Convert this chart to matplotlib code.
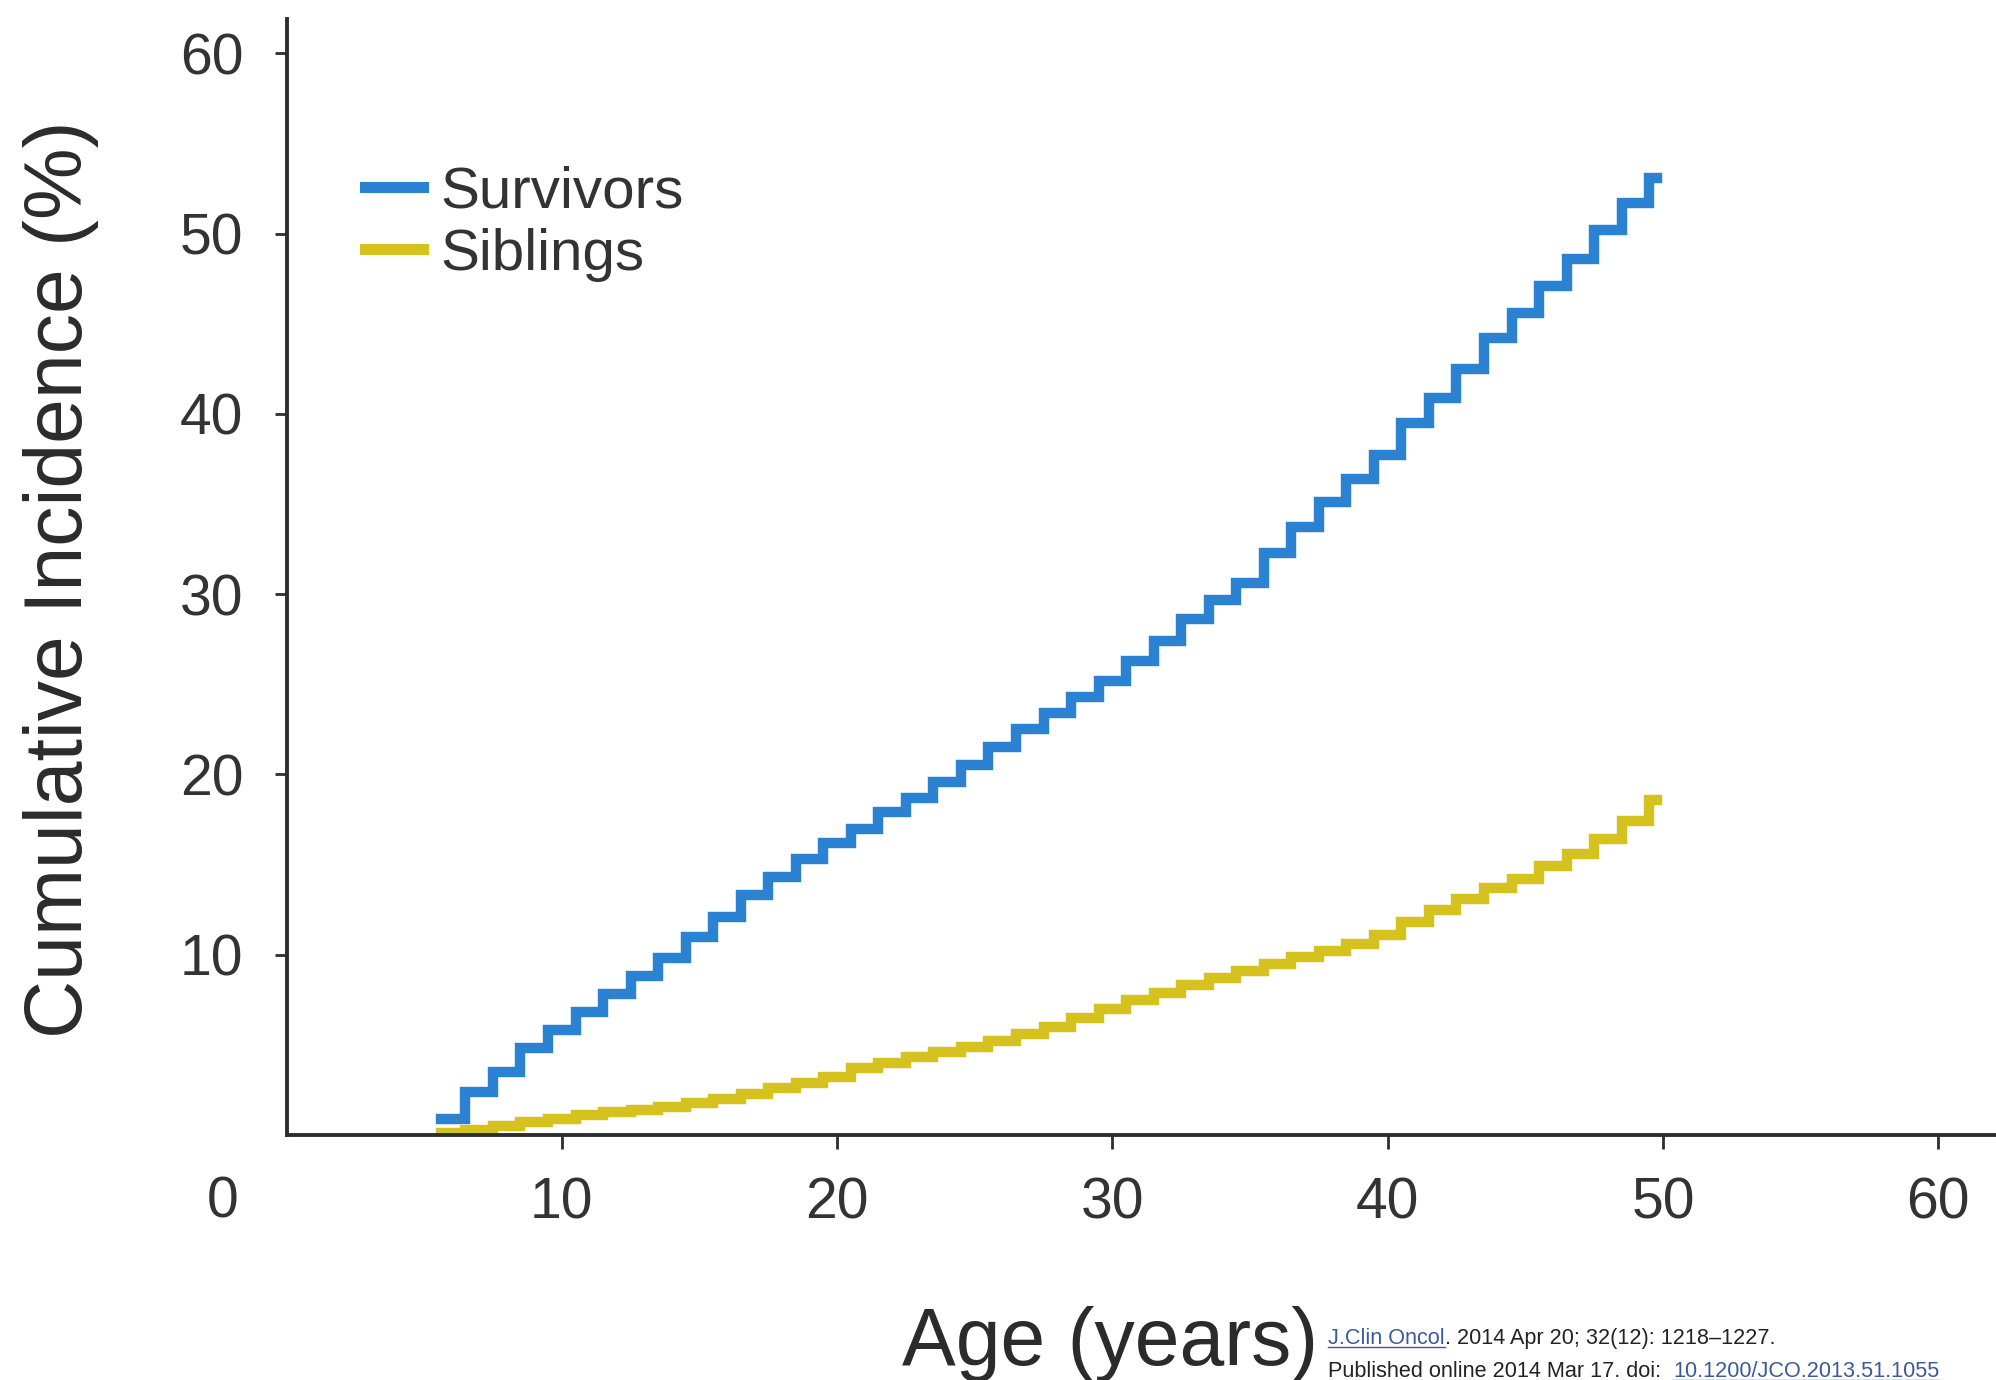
import matplotlib
matplotlib.use("Agg")
import matplotlib.pyplot as plt
from matplotlib.lines import Line2D

plt.rcParams['font.family'] = ['Liberation Sans', 'DejaVu Sans']

# ---- data ----
step_ages = [5.6, 6.5, 7.5, 8.5, 9.5, 10.5, 11.5, 12.5, 13.5, 14.5, 15.5, 16.5,
             17.5, 18.5, 19.5, 20.5, 21.5, 22.5, 23.5, 24.5, 25.5, 26.5, 27.5,
             28.5, 29.5, 30.5, 31.5, 32.5, 33.5, 34.5, 35.5, 36.5, 37.5, 38.5,
             39.5, 40.5, 41.5, 42.5, 43.5, 44.5, 45.5, 46.5, 47.5, 48.5, 49.5, 49.8]

survivors = [0.9, 2.4, 3.5, 4.8, 5.8, 6.8, 7.8, 8.8, 9.8, 11.0, 12.1, 13.3,
             14.3, 15.3, 16.2, 17.0, 17.9, 18.7, 19.6, 20.5, 21.5, 22.5, 23.4,
             24.3, 25.2, 26.3, 27.4, 28.6, 29.7, 30.6, 32.3, 33.7, 35.1, 36.4,
             37.7, 39.5, 40.9, 42.5, 44.2, 45.6, 47.1, 48.6, 50.2, 51.7, 53.1, 53.1]

siblings = [0.1, 0.3, 0.5, 0.7, 0.9, 1.1, 1.25, 1.4, 1.55, 1.8, 2.0, 2.3,
            2.6, 2.9, 3.2, 3.7, 4.0, 4.3, 4.6, 4.9, 5.2, 5.6, 6.0,
            6.5, 7.0, 7.5, 7.9, 8.3, 8.7, 9.1, 9.5, 9.9, 10.2, 10.6,
            11.1, 11.8, 12.5, 13.1, 13.7, 14.2, 14.9, 15.6, 16.4, 17.4, 18.6, 18.6]

series_names = ["Survivors", "Siblings"]
x_ticks = [10, 20, 30, 40, 50, 60]
y_ticks = [10, 20, 30, 40, 50, 60]

BLUE = "#2b82d2"
YELLOW = "#d6c21e"
DARK = "#2e2e2e"
LINK = "#3a5a9a"

W, H = 1996, 1380
fig = plt.figure(figsize=(W / 100, H / 100), dpi=100)
fig.patch.set_facecolor("white")

left_px, bottom_px, top_px = 286.5, 1135, 19
ax = fig.add_axes([left_px / W, 1 - bottom_px / H, 1 - left_px / W, (bottom_px - top_px) / H])

ax.step(step_ages, survivors, where="post", color=BLUE, lw=7.5, label=series_names[0],
        solid_joinstyle="miter")
ax.step(step_ages, siblings, where="post", color=YELLOW, lw=7.5, label=series_names[1],
        solid_joinstyle="miter")

ax.set_xlim(0, 62.1)
ax.set_ylim(0, 61.9)

for s in ["top", "right"]:
    ax.spines[s].set_visible(False)
for s in ["left", "bottom"]:
    ax.spines[s].set_color(DARK)
    ax.spines[s].set_linewidth(2.8)

ax.set_xticks(x_ticks)
ax.set_yticks(y_ticks)
ax.set_xticklabels([str(v) for v in x_ticks])
ax.set_yticklabels([str(v) for v in y_ticks])
ax.tick_params(axis="x", direction="out", length=10, width=2, color=DARK,
               labelsize=41, labelcolor="#333333", pad=20)
ax.tick_params(axis="y", direction="out", length=9, width=2, color=DARK,
               labelsize=41, labelcolor="#333333", pad=22)

# corner "0"
fig.text(223 / W, 1 - 1203 / H, "0", ha="center", va="center", fontsize=41, color="#333333")

# axis labels
fig.text(61 / W, 1 - 579 / H, "Cumulative Incidence (%)", rotation=90, ha="center",
         va="center", fontsize=58, color="#2b2b2b")
fig.text(1110 / W, 1 - 1365 / H, "Age (years)", ha="center", va="baseline",
         fontsize=58, color="#2b2b2b")

# legend
leg = ax.legend(loc="center left", bbox_to_anchor=(365 / W, 1 - 223.5 / H),
                bbox_transform=fig.transFigure, frameon=False, fontsize=42,
                handlelength=1.0, handletextpad=0.3, labelspacing=0.15,
                borderpad=0, borderaxespad=0)
for t in leg.get_texts():
    t.set_color("#333333")
for l in leg.get_lines():
    l.set_linewidth(8)

# citation, drawn piece by piece
fig.canvas.draw()
renderer = fig.canvas.get_renderer()


def pieces(x0_px, base_px, parts, size=15.6):
    x = x0_px
    for txt, color, underline in parts:
        t = fig.text(x / W, 1 - base_px / H, txt, fontsize=size, color=color,
                     ha="left", va="baseline")
        bb = t.get_window_extent(renderer)
        if underline:
            fig.add_artist(Line2D([x / W, (x + bb.width) / W],
                                  [1 - (base_px + 3) / H, 1 - (base_px + 3) / H],
                                  transform=fig.transFigure, color=color, lw=1))
        x += bb.width


pieces(1328, 1344, [("J.Clin Oncol", LINK, True),
                    (". 2014 Apr 20; 32(12): 1218\u20131227.", "#222222", False)])
pieces(1328, 1377, [("Published online 2014 Mar 17. doi:  ", "#222222", False),
                    ("10.1200/JCO.2013.51.1055", LINK, True)])

fig.savefig("out.png", dpi=100, facecolor="white")
